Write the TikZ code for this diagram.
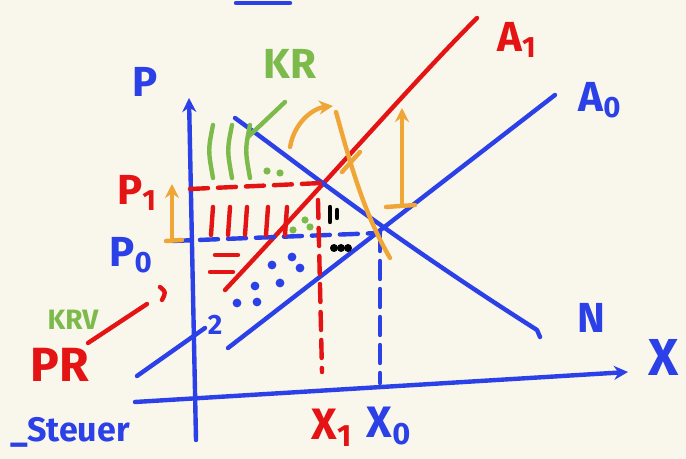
\documentclass[tikz,border=0pt]{standalone}
\usepackage{fontspec}
\setmainfont{Fira Sans}
\usetikzlibrary{arrows.meta}
\definecolor{paper}{HTML}{F9F6EC}
\definecolor{penblue}{HTML}{2B40E6}
\definecolor{penred}{HTML}{E41414}
\definecolor{pengreen}{HTML}{7DBA4C}
\definecolor{penorange}{HTML}{F0A636}
\tikzset{
  pen/.style={line width=2.2pt, line cap=round, line join=round},
  lbl/.style={font=\fontsize{21}{24}\selectfont\bfseries, inner sep=0pt},
  small lbl/.style={font=\fontsize{14}{16}\selectfont\bfseries, inner sep=0pt},
  dashy/.style={dash pattern=on 9pt off 5pt},
}
\begin{document}
\begin{tikzpicture}[x=0.5pt,y=-0.5pt,>={Stealth[length=7pt,width=7pt]}]
\fill[paper] (0,0) rectangle (686,459);
\useasboundingbox (0,0) rectangle (686,459);

% axes
\coordinate (pbot) at (196,440);
\coordinate (ptop) at (189,98);
\coordinate (xl) at (135,402);
\coordinate (xr) at (628,372);
\draw[pen,penblue,->] (pbot) -- (ptop);
\draw[pen,penblue,->] (xl) -- (xr);
\draw[pen,penblue] (236,3) -- (290,3);
\node[lbl,penblue] (plab) at (145,82) {P};
\node[lbl,penblue,font=\fontsize{26}{28}\selectfont\bfseries] (xlab) at (664,357) {X};

% supply and demand
\coordinate (a0s) at (228,348);
\coordinate (a0e) at (555,95);
\coordinate (a1s) at (225,290);
\coordinate (a1e) at (477,18);
\coordinate (ns) at (235,118);
\coordinate (ne) at (537,330);
\draw[pen,penblue] (a0s) -- (a0e);
\draw[pen,penblue] (137,376) -- (205,328);
\draw[pen,penred] (a1s) .. controls (330,178) and (420,75) .. (a1e);
\draw[pen,penblue] (ns) .. controls (300,165) and (380,230) .. (ne) -- (540,337);
\node[lbl,penred] (a1lab) at (517,40) {A\textsubscript{1}};
\node[lbl,penblue] (a0lab) at (600,100) {A\textsubscript{0}};
\node[lbl,penblue] (nlab) at (591,318) {N};

% equilibria
\coordinate (e1) at (322,183);
\coordinate (e0) at (380,233);
\coordinate (p1) at (190,189);
\coordinate (p0) at (172,241);
\coordinate (x1) at (322,372);
\coordinate (x0) at (380,383);
\draw[pen,penred,dashy] (p1) -- (e1);
\draw[pen,penblue,dashy] (p0) -- (e0);
\draw[pen,penred,dashy] (318,200) -- (x1);
\draw[pen,penblue,dashy] (e0) -- (x0);
\node[lbl,penred] (p1lab) at (137,193) {P\textsubscript{1}};
\node[lbl,penblue] (p0lab) at (131,255) {P\textsubscript{0}};
\node[lbl,penred,font=\fontsize{22}{24}\selectfont\bfseries] (x1lab) at (332,428) {X\textsubscript{1}};
\node[lbl,penblue,font=\fontsize{22}{24}\selectfont\bfseries] (x0lab) at (389,426) {X\textsubscript{0}};

% hatching
\foreach \x in {213,230,247,268,287}
  \draw[pen,penred] (\x,207) -- (\x-2,235);
\draw[pen,penred] (215,255) -- (238,255);
\draw[pen,penred] (210,272) -- (233,272);
\foreach \x/\y in {272/265,292/257,300/268,280/283,255/286,237/303,257/302}
  \fill[penblue] (\x,\y) circle (2.2pt);
\node[small lbl,penblue] (two) at (215,325) {2};
\foreach \x in {213,232,250}
  \draw[pen,pengreen] (\x,125) .. controls (\x-5,150) .. (\x,178);
\foreach \x/\y in {267/171,280/173,305/220,293/230,310/227}
  \fill[pengreen] (\x,\y) circle (1.8pt);
\draw[pen] (330,207) -- (330,222);
\draw[pen] (337,210) -- (337,218);
\foreach \x in {334,341,348}
  \fill (\x,248) circle (2pt);

% surplus labels
\node[lbl,pengreen] (krlab) at (290,64) {KR};
\coordinate (krtip) at (248,137);
\draw[pen,pengreen] (285,102) -- (krtip);
\node[small lbl,pengreen] (krvlab) at (73,320) {KRV};
\node[lbl,penred,font=\fontsize{24}{26}\selectfont\bfseries] (prlab) at (60,365) {PR};
\draw[pen,penred] (88,343) -- (147,304);
\draw[pen,penred] (160,287) .. controls (166,292) .. (162,300);
\node[lbl,penblue,font=\fontsize{17}{20}\selectfont\bfseries] (stlab) at (70,432) {\_Steuer};

% shifts
\draw[pen,penorange,->] (172,240) -- (172,184);
\draw[pen,penorange] (166,241) -- (182,240);
\draw[pen,penorange,->] (402,205) -- (402,108);
\draw[pen,penorange] (386,207) -- (415,205);
\draw[pen,penorange,->] (290,147) .. controls (295,120) and (315,108) .. (333,106);
\draw[pen,penorange] (336,112) .. controls (352,170) and (365,215) .. (390,258);
\draw[pen,penorange] (342,172) -- (360,152);
\end{tikzpicture}
\end{document}
